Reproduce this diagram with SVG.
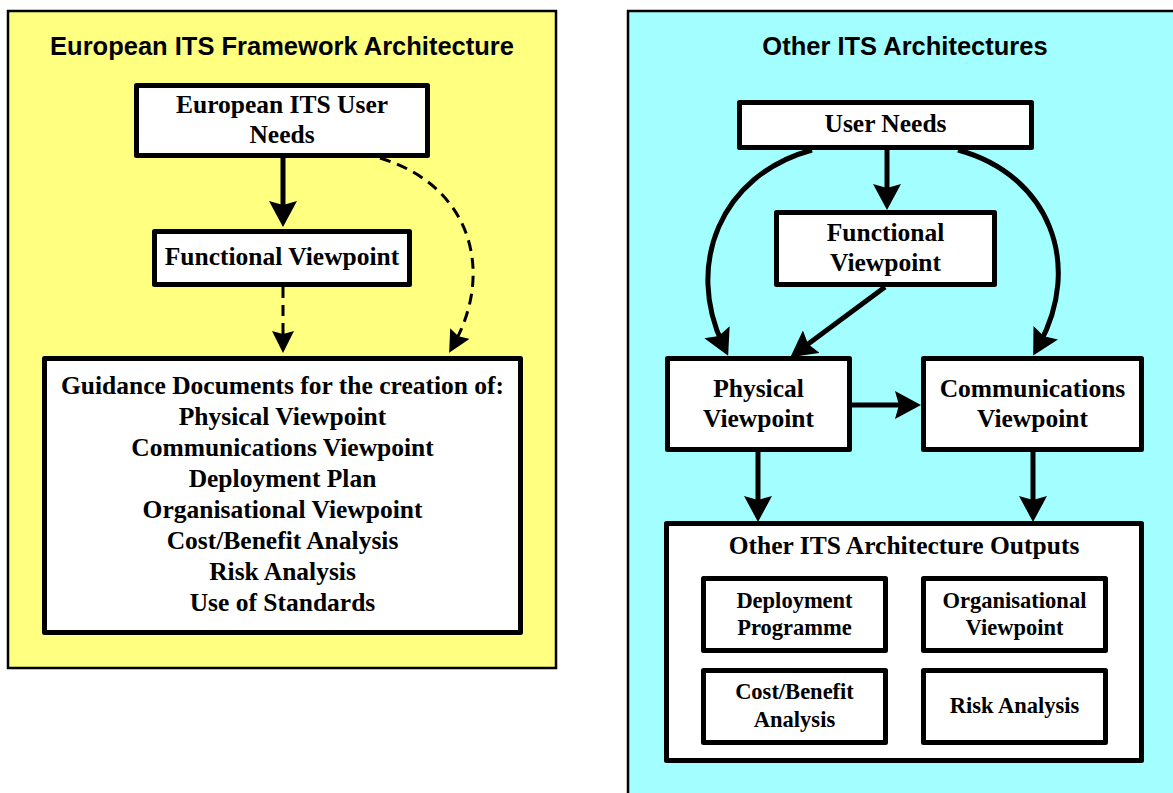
<svg xmlns="http://www.w3.org/2000/svg" width="1173" height="793" viewBox="0 0 1173 793">
<style>
.panel{stroke:#000;stroke-width:2.5}
.box{fill:#fff;stroke:#000;stroke-width:5;stroke-linejoin:round}
.t{font-family:"Liberation Serif","Times New Roman",serif;font-weight:bold;font-size:25.5px;fill:#000;text-anchor:middle}
.ts{font-family:"Liberation Serif","Times New Roman",serif;font-weight:bold;font-size:22.5px;fill:#000;text-anchor:middle}
.title{font-family:"Liberation Sans",Arial,sans-serif;font-weight:bold;font-size:25.5px;fill:#000;text-anchor:middle}
.solid{fill:none;stroke:#000;stroke-width:5}
.dash{fill:none;stroke:#000;stroke-width:3;stroke-dasharray:11 7}
</style>
<defs>
<marker id="ah" viewBox="0 0 26 28" refX="14" refY="14" markerWidth="26" markerHeight="28" markerUnits="userSpaceOnUse" orient="auto">
<path d="M0,0 L26,14 L0,28 L4,14 Z" fill="#000"/>
</marker>
<marker id="ahd" viewBox="0 0 22 22" refX="12" refY="11" markerWidth="22" markerHeight="22" markerUnits="userSpaceOnUse" orient="auto">
<path d="M0,0 L22,11 L0,22 L3,11 Z" fill="#000"/>
</marker>
</defs>

<g id="panel-european">
<rect class="panel" x="8" y="11" width="548" height="657" fill="#FFFF80"/>
<text class="title" x="282" y="55">European ITS Framework Architecture</text>
</g>
<g id="panel-other">
<rect class="panel" x="628" y="11" width="560" height="800" fill="#A3FFFF"/>
<text class="title" x="905" y="55">Other ITS Architectures</text>
</g>

<g id="connectors">
<path class="solid" d="M283,158 L283,215" marker-end="url(#ah)"/>
<path class="dash" d="M283,287 L283,343" marker-end="url(#ahd)"/>
<path class="dash" d="M380,158 C470,185 495,270 454,344" marker-end="url(#ahd)"/>
<path class="solid" d="M887,150 L887,198" marker-end="url(#ah)"/>
<path class="solid" d="M812,150 C720,175 685,265 723,345" marker-end="url(#ah)"/>
<path class="solid" d="M958,150 C1050,175 1083,265 1039,345" marker-end="url(#ah)"/>
<path class="solid" d="M885,287 L800,350" marker-end="url(#ah)"/>
<path class="solid" d="M852,405 L909,405" marker-end="url(#ah)"/>
<path class="solid" d="M758,452 L758,510" marker-end="url(#ah)"/>
<path class="solid" d="M1033,452 L1033,510" marker-end="url(#ah)"/>
</g>

<g id="node-eu-user-needs">
<rect class="box" x="136.5" y="85.5" width="291" height="70"/>
<text class="t" x="282" y="113">European ITS User</text>
<text class="t" x="282" y="143">Needs</text>
</g>
<g id="node-eu-functional">
<rect class="box" x="154.5" y="231.5" width="255" height="53"/>
<text class="t" x="282" y="265">Functional Viewpoint</text>
</g>
<g id="node-guidance">
<rect class="box" x="44.5" y="358.5" width="476" height="274"/>
<text class="t" x="282.5" y="394">Guidance Documents for the creation of:</text>
<text class="t" x="282.5" y="425">Physical Viewpoint</text>
<text class="t" x="282.5" y="456">Communications Viewpoint</text>
<text class="t" x="282.5" y="487">Deployment Plan</text>
<text class="t" x="282.5" y="518">Organisational Viewpoint</text>
<text class="t" x="282.5" y="549">Cost/Benefit Analysis</text>
<text class="t" x="282.5" y="580">Risk Analysis</text>
<text class="t" x="282.5" y="611">Use of Standards</text>
</g>

<g id="node-user-needs">
<rect class="box" x="739.5" y="102.5" width="292" height="45"/>
<text class="t" x="885.5" y="132">User Needs</text>
</g>
<g id="node-functional">
<rect class="box" x="776.5" y="212.5" width="218" height="72"/>
<text class="t" x="885.5" y="241">Functional</text>
<text class="t" x="885.5" y="271">Viewpoint</text>
</g>
<g id="node-physical">
<rect class="box" x="667.5" y="358.5" width="182" height="91"/>
<text class="t" x="758.5" y="397">Physical</text>
<text class="t" x="758.5" y="427">Viewpoint</text>
</g>
<g id="node-communications">
<rect class="box" x="923.5" y="358.5" width="218" height="91"/>
<text class="t" x="1032.5" y="397">Communications</text>
<text class="t" x="1032.5" y="427">Viewpoint</text>
</g>
<g id="node-outputs">
<rect class="box" x="666.5" y="523.5" width="475" height="237"/>
<text class="t" x="904" y="554">Other ITS Architecture Outputs</text>
</g>
<g id="node-deployment">
<rect class="box" x="703.5" y="578.5" width="182" height="72"/>
<text class="ts" x="794.5" y="608">Deployment</text>
<text class="ts" x="794.5" y="635">Programme</text>
</g>
<g id="node-organisational">
<rect class="box" x="923.5" y="578.5" width="182" height="72"/>
<text class="ts" x="1014.5" y="608">Organisational</text>
<text class="ts" x="1014.5" y="635">Viewpoint</text>
</g>
<g id="node-costbenefit">
<rect class="box" x="703.5" y="670.5" width="182" height="72"/>
<text class="ts" x="794.5" y="699">Cost/Benefit</text>
<text class="ts" x="794.5" y="727">Analysis</text>
</g>
<g id="node-risk">
<rect class="box" x="923.5" y="670.5" width="182" height="72"/>
<text class="ts" x="1014.5" y="713">Risk Analysis</text>
</g>
</svg>
